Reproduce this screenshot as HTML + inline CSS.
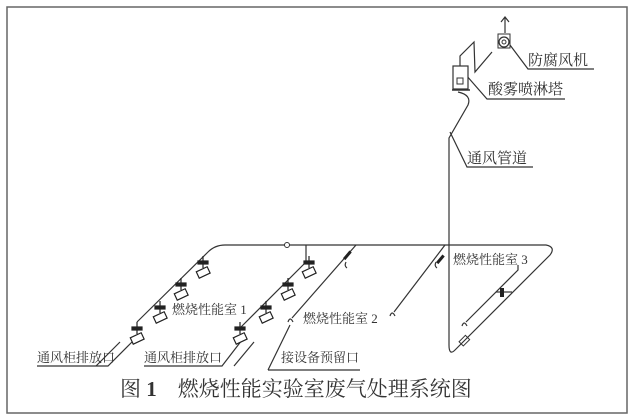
<!DOCTYPE html>
<html><head><meta charset="utf-8"><style>
html,body{margin:0;padding:0;background:#fff;}
svg{display:block;}
text{font-family:"Liberation Serif","Noto Serif CJK SC",serif;fill:#333;}
</style></head><body>
<svg width="636" height="419" viewBox="0 0 636 419" xmlns="http://www.w3.org/2000/svg">
<rect x="7" y="7" width="620" height="406" fill="#fff" stroke="#666" stroke-width="1.5"/>
<g fill="none" stroke="#333" stroke-width="1.2">
<path d="M137,322 L208,252 Q215,245 225,245 L546,245 Q556,247 550,255 L455,350 Q449,356 449,345 L449,138 L468,105 Q472,95 458,92"/>
<path d="M240,328 L306,262 L306,245"/>
<path d="M292,318 L356,245"/>
<path d="M288,322 q2,-6 5,0"/>
<path d="M346,262 q-2,4 1,6"/>
<path d="M394,312 L445,245"/>
<path d="M390,316 q2,-6 5,0"/>
<path d="M436,262 q-2,4 1,6"/>
<path d="M466,322 L518,270 L518,265"/>
<path d="M462,326 q2,-6 5,0"/>
<path d="M496,292 L512,292"/>
<path d="M460,66 L460,56 L474,42 L475,72 L492,52"/>
<path d="M505,33 L505,18"/>
<path d="M501,22 L505,17 L509,22"/>
<!-- leaders -->
<path d="M37,366 L108,366 L132,342"/>
<path d="M96,366 L120,342"/>
<path d="M144,366 L222,366 L242,340"/>
<path d="M234,366 L254,342"/>
<path d="M268,370 L290,325"/>
<path d="M268,370 L360,370"/>
<path d="M466,75 L487,99 L565,99"/>
<path d="M510,45 L528,69 L594,69"/>
<path d="M450,132 L467,167 L533,167"/>
</g>
<rect x="453" y="66" width="15" height="23" fill="#fff" stroke="#333" stroke-width="1.2"/>
<rect x="457" y="78" width="6" height="6" fill="none" stroke="#333"/>
<line x1="452" y1="90" x2="470" y2="90" stroke="#333" stroke-width="1.5"/>
<rect x="498" y="34" width="12" height="14" fill="#fff" stroke="#333"/>
<circle cx="504" cy="42" r="5" fill="#fff" stroke="#333" stroke-width="1.3"/>
<circle cx="504" cy="42" r="2" fill="none" stroke="#333"/>
<circle cx="287" cy="245" r="2.5" fill="#fff" stroke="#333"/>
<g stroke="#222" fill="#fff" stroke-width="1.2">
<g transform="translate(203,262)"><line x1="0" y1="-6" x2="0" y2="6"/><rect x="-5" y="-1" width="10" height="3" fill="#222"/><rect x="-6" y="7" width="12" height="7" transform="rotate(-25 0 10)"/></g>
<g transform="translate(181,284)"><line x1="0" y1="-6" x2="0" y2="6"/><rect x="-5" y="-1" width="10" height="3" fill="#222"/><rect x="-6" y="7" width="12" height="7" transform="rotate(-25 0 10)"/></g>
<g transform="translate(160,307)"><line x1="0" y1="-6" x2="0" y2="6"/><rect x="-5" y="-1" width="10" height="3" fill="#222"/><rect x="-6" y="7" width="12" height="7" transform="rotate(-25 0 10)"/></g>
<g transform="translate(137,328)"><line x1="0" y1="-6" x2="0" y2="6"/><rect x="-5" y="-1" width="10" height="3" fill="#222"/><rect x="-6" y="7" width="12" height="7" transform="rotate(-25 0 10)"/></g>
<g transform="translate(309,262)"><line x1="0" y1="-6" x2="0" y2="6"/><rect x="-5" y="-1" width="10" height="3" fill="#222"/><rect x="-6" y="7" width="12" height="7" transform="rotate(-25 0 10)"/></g>
<g transform="translate(288,284)"><line x1="0" y1="-6" x2="0" y2="6"/><rect x="-5" y="-1" width="10" height="3" fill="#222"/><rect x="-6" y="7" width="12" height="7" transform="rotate(-25 0 10)"/></g>
<g transform="translate(266,307)"><line x1="0" y1="-6" x2="0" y2="6"/><rect x="-5" y="-1" width="10" height="3" fill="#222"/><rect x="-6" y="7" width="12" height="7" transform="rotate(-25 0 10)"/></g>
<g transform="translate(240,328)"><line x1="0" y1="-6" x2="0" y2="6"/><rect x="-5" y="-1" width="10" height="3" fill="#222"/><rect x="-6" y="7" width="12" height="7" transform="rotate(-25 0 10)"/></g>
</g>
<rect x="342" y="254" width="10" height="3" fill="#222" transform="rotate(-50 347 255)"/>
<rect x="435" y="258" width="10" height="3" fill="#222" transform="rotate(-50 440 259)"/>
<rect x="500" y="288" width="4" height="9" fill="#222"/>
<rect x="460" y="338" width="9" height="6" fill="none" stroke="#333" transform="rotate(-45 464 341)"/>
<g font-size="15">
<text x="528" y="65">防腐风机</text>
<text x="488" y="94">酸雾喷淋塔</text>
<text x="467" y="163">通风管道</text>
</g>
<g font-size="13">
<text x="453" y="264">燃烧性能室 3</text>
<text x="172" y="314">燃烧性能室 1</text>
<text x="303" y="323">燃烧性能室 2</text>
<text x="37" y="362">通风柜排放口</text>
<text x="144" y="362">通风柜排放口</text>
<text x="281" y="362">接设备预留口</text>
</g>
<text x="120" y="396" font-size="21">图 <tspan font-weight="bold">1</tspan>　燃烧性能实验室废气处理系统图</text>
</svg>
</body></html>
